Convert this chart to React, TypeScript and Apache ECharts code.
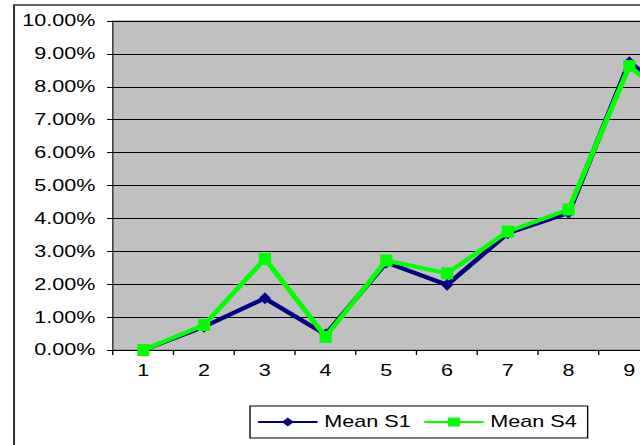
import React, { useEffect, useRef } from "react";
import * as echarts from "echarts";

const categories = ["1", "2", "3", "4", "5", "6", "7", "8", "9", "10"];
const meanS1 = [0.0, 0.71, 1.57, 0.47, 2.66, 1.98, 3.55, 4.17, 8.75, 7.3];
const meanS4 = [0.0, 0.76, 2.77, 0.4, 2.72, 2.33, 3.6, 4.27, 8.63, 7.1];
const yMin = 0;
const yMax = 10;
const yStep = 1;
const visibleLabelCount = 9; // the picture is cropped after category 9

const SX = 1.35; // horizontal stretch of the original picture
const FONT = "'Liberation Sans', Arial, sans-serif";

export default function App() {
  const ref = useRef<HTMLDivElement>(null);
  useEffect(() => {
    if (!ref.current) return;
    const chart = echarts.init(ref.current, undefined, { renderer: "svg" });
    chart.setOption({
      animation: false,
      backgroundColor: "#ffffff",
      textStyle: { fontFamily: FONT },
      graphic: [
        {
          type: "rect",
          shape: { x: 10.4, y: 5, width: 600, height: 500 },
          style: { fill: "none", stroke: "#333333", lineWidth: 1.5 },
          silent: true,
          z: 0,
        },
      ],
      grid: {
        left: 83.7,
        top: 21,
        width: 450,
        height: 329,
        show: true,
        backgroundColor: "#c0c0c0",
        borderColor: "#808080",
        borderWidth: 1,
      },
      legend: {
        left: 185.2,
        top: 406,
        orient: "horizontal",
        backgroundColor: "#ffffff",
        borderColor: "#000000",
        borderWidth: 1,
        borderRadius: 0,
        padding: [8, 8, 8, 5],
        itemGap: 9,
        itemWidth: 44,
        itemHeight: 11,
        textStyle: { fontFamily: FONT, fontSize: 16, color: "#000000" },
        data: ["Mean S1", "Mean S4"],
      },
      xAxis: {
        type: "category",
        data: categories,
        boundaryGap: true,
        axisLine: { lineStyle: { color: "#000000", width: 1 } },
        axisTick: { show: true, inside: false, length: 5, alignWithLabel: false, lineStyle: { color: "#000000" } },
        axisLabel: {
          fontFamily: FONT,
          fontSize: 16,
          color: "#000000",
          margin: 13,
          interval: (index: number) => index < visibleLabelCount,
        },
        splitLine: { show: false },
      },
      yAxis: {
        type: "value",
        min: yMin,
        max: yMax,
        interval: yStep,
        axisLine: { show: true, lineStyle: { color: "#404040", width: 1 } },
        axisTick: { show: true, inside: false, length: 4.4, lineStyle: { color: "#000000" } },
        axisLabel: {
          fontFamily: FONT,
          fontSize: 16,
          color: "#000000",
          margin: 13,
          formatter: (v: number) => v.toFixed(2) + "%",
        },
        splitLine: { show: true, lineStyle: { color: "#000000", width: 1 } },
      },
      series: [
        {
          name: "Mean S1",
          type: "line",
          data: meanS1,
          symbol: "diamond",
          symbolSize: [9, 12],
          showAllSymbol: true,
          lineStyle: { color: "#000080", width: 4 },
          itemStyle: { color: "#000080" },
          z: 2,
        },
        {
          name: "Mean S4",
          type: "line",
          data: meanS4,
          symbol: "rect",
          symbolSize: [9, 12],
          showAllSymbol: true,
          lineStyle: { color: "#00ff00", width: 4 },
          itemStyle: { color: "#00ff00" },
          z: 3,
        },
      ],
    });
    return () => chart.dispose();
  }, []);
  return (
    <div
      style={{
        position: "fixed",
        left: 0,
        top: 0,
        width: 640,
        height: 445,
        overflow: "hidden",
        background: "#ffffff",
      }}
    >
      <div
        ref={ref}
        style={{
          width: 560,
          height: 445,
          transform: `scaleX(${SX})`,
          transformOrigin: "0 0",
        }}
      />
    </div>
  );
}
